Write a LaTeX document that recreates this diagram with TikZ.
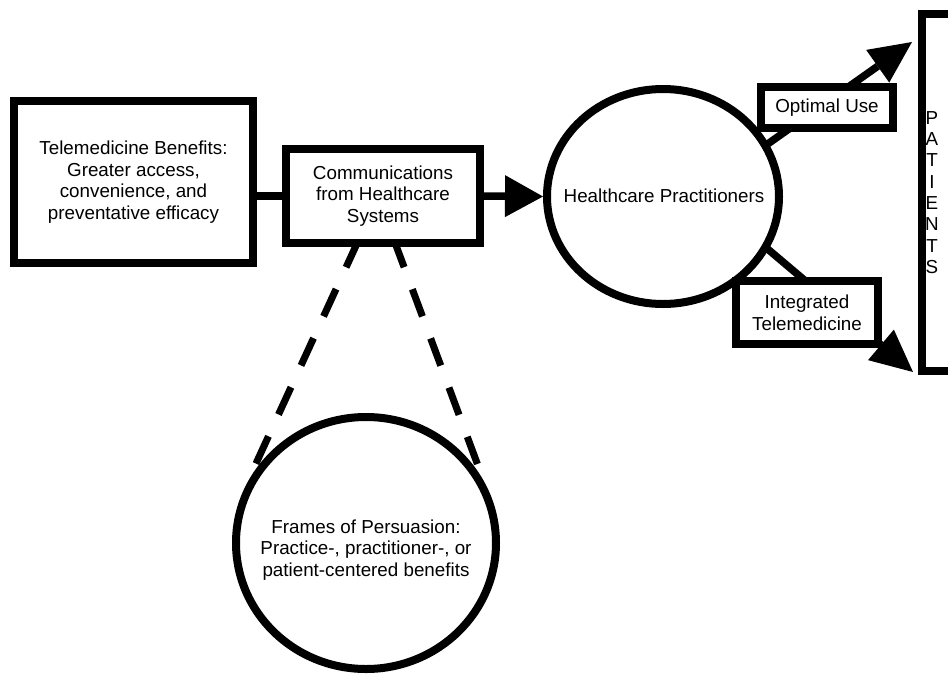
\documentclass[tikz,border=0pt]{standalone}
\usepackage{fontspec}
\setmainfont{Liberation Sans}
\usetikzlibrary{arrows.meta,shapes.geometric,calc,backgrounds}
\begin{document}
\begin{tikzpicture}[x=1pt,y=-1pt,
  every node/.style={font=\fontsize{18.8}{21.7}\selectfont, align=center, inner sep=0pt},
  boxnode/.style={draw, line width=8pt, fill=white, rectangle},
  ovalnode/.style={draw, line width=8pt, fill=white, ellipse, inner sep=0pt},
  conn/.style={line width=7.5pt},
  bigarrow/.style={conn, -{Triangle[length=38pt,width=42pt,line width=0pt]}},
  sidearrow/.style={conn, -{Triangle[length=42pt,width=40pt,line width=0pt]}},
  dashconn/.style={line width=7pt}
]
\useasboundingbox (0,0) rectangle (948,675);

% nodes
\node[boxnode, minimum width=239pt, minimum height=162pt] (tele) at (133.5,182)
  {Telemedicine Benefits:\\Greater access,\\convenience, and\\preventative efficacy};
\node[boxnode, minimum width=194pt, minimum height=94pt] (comm) at (383,196)
  {Communications\\from Healthcare\\Systems};
\node[ovalnode, minimum width=232pt, minimum height=215pt] (hc) at (663,196.5) {};
\node (hctext) at (664,196) {Healthcare Practitioners};
\node[boxnode, minimum width=132pt, minimum height=41pt] (opt) at (827,107.5) {Optimal Use};
\node[boxnode, minimum width=142pt, minimum height=63pt] (integ) at (807,312.5) {Integrated\\Telemedicine};
\node[boxnode, minimum width=48pt, minimum height=357pt] (pat) at (946,192.5) {};
\node[font=\fontsize{18.8}{21.3}\selectfont] (pattext) at (932,192.5) {P\\A\\T\\I\\E\\N\\T\\S};
\node[ovalnode, minimum width=260pt, minimum height=252pt] (frames) at (366,543) {};
\node (framestext) at (366,550) {Frames of Persuasion:\\Practice-, practitioner-, or\\patient-centered benefits};

\coordinate (outip) at (912,42);
\coordinate (intip) at (913,372);

% connectors
\begin{pgfonlayer}{background}
  \draw[conn] (comm.west) -- (comm.west -| tele.east);
  \draw[sidearrow] ($(hc.center)+(94,-45)$) -- (outip);
  \draw[sidearrow] ($(hc.center)+(94,43.5)$) -- (intip);
  \draw[dashconn, dash pattern=on 30pt off 24pt] ($(comm.south)+(-24.4,-7)$) -- ($(frames.center)+(-113,-73)$);
  \draw[dashconn, dash pattern=on 29pt off 23.5pt] ($(comm.south)+(11,-7)$) -- ($(frames.center)+(114,-72)$);
\end{pgfonlayer}
\draw[bigarrow] (comm.east) -- (hc.west);
\end{tikzpicture}
\end{document}
